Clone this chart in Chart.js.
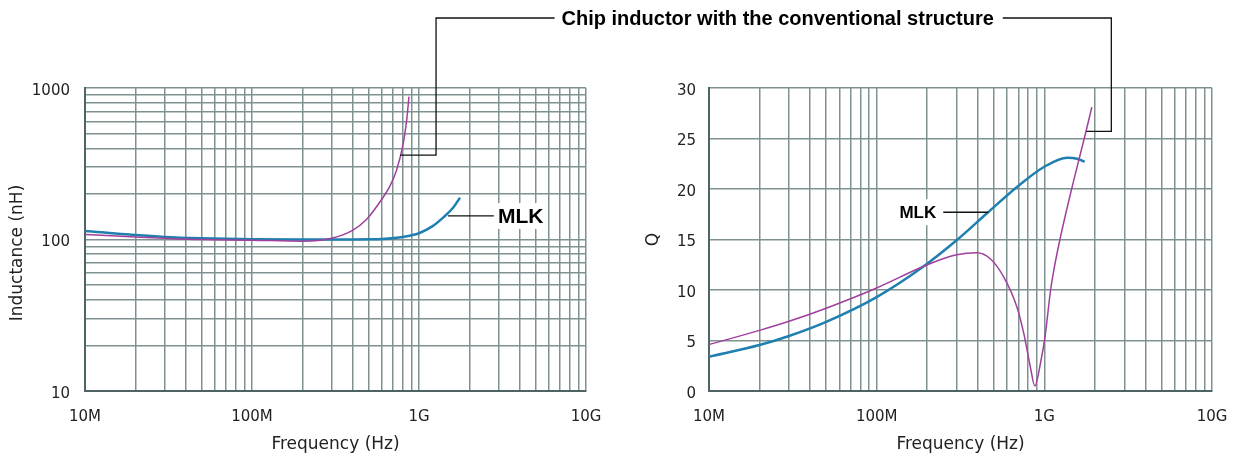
<!DOCTYPE html>
<html>
<head>
<meta charset="utf-8">
<script src="https://cdn.jsdelivr.net/npm/chart.js@4.4.1/dist/chart.umd.min.js"></script>
<style>
  html, body { margin: 0; padding: 0; background: #fff; }
  #wrap { position: relative; width: 1241px; height: 459px; overflow: hidden; }
  #wrap canvas { position: absolute; top: 0; }
  #lchart { left: 0; }
  #qchart { left: 620px; }
  #overlay { left: 0; pointer-events: none; }
</style>
</head>
<body>
<div id="wrap">
  <canvas id="lchart" width="620" height="459"></canvas>
  <canvas id="qchart" width="625" height="459"></canvas>
  <canvas id="overlay" width="1241" height="459"></canvas>
</div>
<script>
// tick values / labels
const freqDecades = [1e7, 1e8, 1e9, 1e10];
const freqLabels = ["10M", "100M", "1G", "10G"];
const indDecades = [10, 100, 1000];
const minorSteps = [1, 2, 3, 4, 5, 6, 7, 8, 9];

// inductance (nH) vs frequency (Hz)
const indFreqMlk = [1e7, 2e7, 3e7, 5e7, 1e8, 2e8, 3e8, 5e8, 6e8, 8e8, 1e9, 1.2e9, 1.4e9, 1.6e9, 1.76e9];
const indMlk     = [114, 107, 104, 102, 100.5, 100, 100, 100.3, 100.8, 104, 110, 122, 140, 162, 189];
const indFreqConv = [1e7, 2e7, 3e7, 5e7, 1e8, 2e8, 3e8, 4e8, 4.86e8, 6.1e8, 6.7e8, 7.35e8, 8.05e8, 8.44e8, 8.71e8];
const indConv     = [108, 104, 102, 100, 99, 97.5, 102, 115, 136, 190, 225, 288, 431, 615, 877];

// Q vs frequency (Hz)
const qFreqMlk = [1e7, 2e7, 3e7, 5e7, 1e8, 1.82e8, 3.01e8, 4.55e8, 6.87e8, 1e9, 1.37e9, 1.57e9, 1.74e9];
const qMlk     = [3.4, 4.55, 5.45, 6.85, 9.3, 12.1, 14.95, 17.6, 20.2, 22.2, 23.1, 23.0, 22.7];
const qFreqConv = [1e7, 2e7, 3e7, 5e7, 1e8, 1.82e8, 2.39e8, 3e8, 3.96e8, 4.76e8, 5.72e8, 6.87e8, 7.54e8, 8.25e8, 8.77e8, 9.47e8, 1.01e9, 1.09e9, 1.14e9, 1.25e9, 1.5e9, 1.76e9, 1.92e9];
const qConv     = [4.6, 6.0, 6.9, 8.2, 10.2, 12.2, 13.0, 13.5, 13.7, 13.1, 11.3, 8.3, 5.7, 2.4, 0.5, 2.7, 5.4, 10.0, 12.0, 15.3, 20.9, 25.5, 28.1];

const BLUE = "#1f80b0";
const MAGENTA = "#a0409e";
const GRID = "#7f9191";
const TEXT = "#222";
const FONT = "'DejaVu Sans', sans-serif";

function logGrid(decades) {
  const out = [];
  decades.slice(0, -1).forEach(d => minorSteps.forEach(m => out.push(d * m)));
  out.push(decades[decades.length - 1]);
  return out;
}
const freqGrid = logGrid(freqDecades);
const indGrid = logGrid(indDecades);

function pts(xs, ys) { return xs.map((x, i) => ({ x: x, y: ys[i] })); }

function lineSet(data, color, width) {
  return {
    data: data, borderColor: color, borderWidth: width,
    pointRadius: 0, fill: false, cubicInterpolationMode: "monotone"
  };
}

function freqAxis() {
  return {
    type: "logarithmic", min: 1e7, max: 1e10,
    afterBuildTicks: s => { s.ticks = freqGrid.map(v => ({ value: v })); },
    afterFit: s => { s.height = 68; },
    grid: { color: GRID, lineWidth: 1.5, drawTicks: false },
    border: { color: "#4f6464", width: 2 },
    ticks: {
      autoSkip: false, maxRotation: 0, padding: 17, color: TEXT,
      font: { family: FONT, size: 15 },
      callback: v => { const i = freqDecades.indexOf(v); return i >= 0 ? freqLabels[i] : ""; }
    },
    title: { display: true, text: "Frequency (Hz)", color: TEXT, font: { family: FONT, size: 17 }, padding: { bottom: 4 } }
  };
}

const lChart = new Chart(document.getElementById("lchart"), {
  type: "line",
  data: { datasets: [lineSet(pts(indFreqConv, indConv), MAGENTA, 1.5), lineSet(pts(indFreqMlk, indMlk), BLUE, 2.5)] },
  options: {
    responsive: false, animation: false,
    layout: { padding: { top: 88, right: 34, left: 0, bottom: 0 } },
    plugins: { legend: { display: false }, tooltip: { enabled: false } },
    scales: {
      x: freqAxis(),
      y: {
        type: "logarithmic", min: 10, max: 1000,
        afterBuildTicks: s => { s.ticks = indGrid.map(v => ({ value: v })); },
        afterFit: s => { s.width = 85; },
        grid: { color: GRID, lineWidth: 1.5, drawTicks: false },
        border: { color: "#4f6464", width: 2 },
        ticks: {
          autoSkip: false, padding: 15, labelOffset: 3, color: TEXT,
          font: { family: FONT, size: 15 },
          callback: v => indDecades.includes(v) ? String(v) : ""
        },
        // trailing spaces push the rotated title a little below the centre, as in the original
        title: { display: true, text: "Inductance (nH)     ", color: TEXT, font: { family: FONT, size: 17 }, padding: { top: 7 } }
      }
    }
  }
});

// canvas is a little wider than the page; the x labels reserve 33px on the right
const qChart = new Chart(document.getElementById("qchart"), {
  type: "line",
  data: { datasets: [lineSet(pts(qFreqConv, qConv), MAGENTA, 1.5), lineSet(pts(qFreqMlk, qMlk), BLUE, 2.5)] },
  options: {
    responsive: false, animation: false,
    layout: { padding: { top: 88, right: 33, left: 0, bottom: 0 } },
    plugins: { legend: { display: false }, tooltip: { enabled: false } },
    scales: {
      x: freqAxis(),
      y: {
        type: "linear", min: 0, max: 30,
        afterFit: s => { s.width = 89; },
        grid: { color: GRID, lineWidth: 1.5, drawTicks: false },
        border: { color: "#4f6464", width: 2 },
        ticks: { stepSize: 5, padding: 13, labelOffset: 3, color: TEXT, font: { family: FONT, size: 15 } },
        title: { display: true, text: "Q", color: TEXT, font: { family: FONT, size: 17 }, padding: { top: 23 } }
      }
    }
  }
});

// callouts, anchored on the curves through the chart scales
const ov = document.getElementById("overlay").getContext("2d");
function at(chart, offX, f, v) {
  return [offX + chart.scales.x.getPixelForValue(f), chart.scales.y.getPixelForValue(v)];
}
function poly(points) {
  ov.beginPath();
  ov.moveTo(points[0][0], points[0][1]);
  points.slice(1).forEach(p => ov.lineTo(p[0], p[1]));
  ov.stroke();
}
function boxedText(txt, x, y, font) {
  ov.font = font;
  const w = ov.measureText(txt).width;
  ov.fillStyle = "#fff";
  ov.fillRect(x - 4, y - 13, w + 8, 26);
  ov.fillStyle = "#000";
  ov.textBaseline = "middle";
  ov.textAlign = "left";
  ov.fillText(txt, x, y + 1);
}

ov.strokeStyle = "#111";
ov.lineWidth = 1.3;
const topY = 18;

const convL = at(lChart, 0, 7.7e8, 361);
const convQ = at(qChart, 620, 1.78e9, 25.7);
const elbowL = convL[0] + 36, elbowQ = convQ[0] + 25;
const title = "Chip inductor with the conventional structure";
ov.font = "bold 20px 'Liberation Sans Narrow', 'Liberation Sans', sans-serif";
const tw = ov.measureText(title).width;
const tx = (elbowL + elbowQ) / 2 + 4;
ov.fillStyle = "#000";
ov.textAlign = "center";
ov.textBaseline = "middle";
ov.fillText(title, tx, topY + 1);
poly([convL, [elbowL, convL[1]], [elbowL, topY], [tx - tw / 2 - 7, topY]]);
poly([convQ, [elbowQ, convQ[1]], [elbowQ, topY], [tx + tw / 2 + 9, topY]]);

const mlkL = at(lChart, 0, 1.49e9, 143);
poly([mlkL, [mlkL[0] + 46, mlkL[1]]]);
boxedText("MLK", mlkL[0] + 50, mlkL[1], "bold 21px 'Liberation Sans', sans-serif");

const mlkQ = at(qChart, 620, 4.63e8, 17.7);
poly([mlkQ, [mlkQ[0] - 45, mlkQ[1]]]);
ov.font = "bold 17px 'Liberation Sans', sans-serif";
const mw = ov.measureText("MLK").width;
boxedText("MLK", mlkQ[0] - 52 - mw, mlkQ[1], "bold 17px 'Liberation Sans', sans-serif");
</script>
</body>
</html>
